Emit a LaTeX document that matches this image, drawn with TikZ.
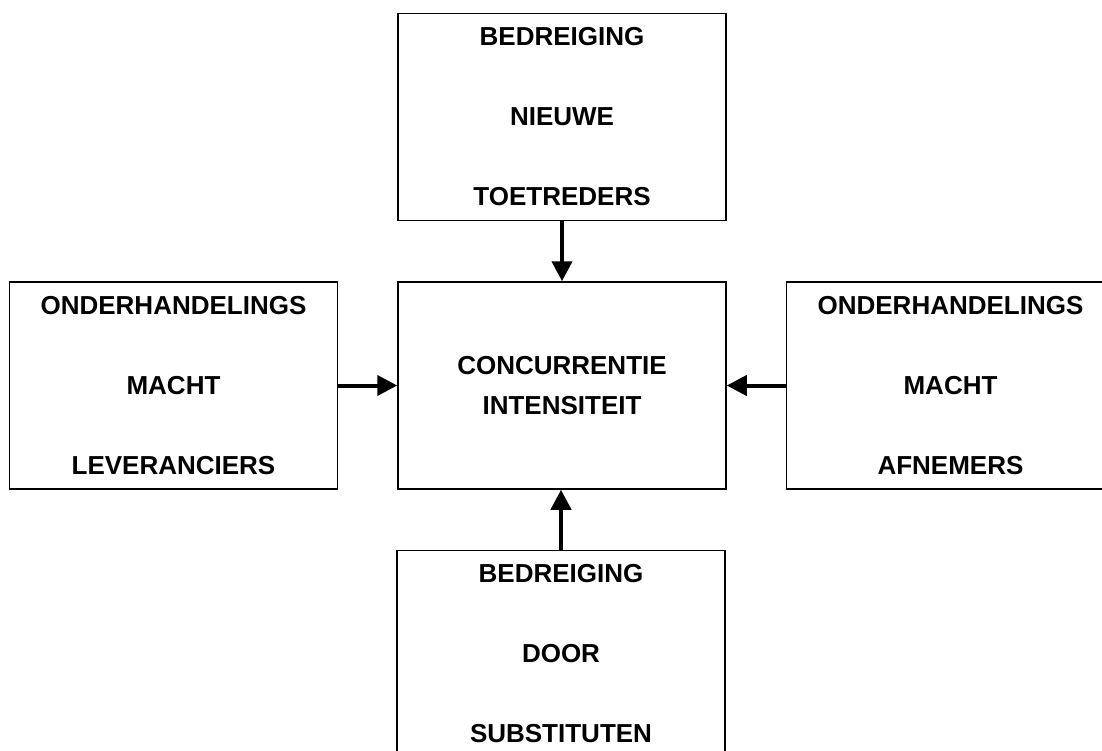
\documentclass[tikz,border=0pt]{standalone}
\usepackage{fontspec}
\setmainfont{Liberation Sans}
\usetikzlibrary{positioning,arrows.meta}
\tikzset{force/.style={draw=black,line width=1.5pt,minimum width=328pt,minimum height=207pt,
  inner sep=0pt,align=center,font=\bfseries\fontsize{26}{40}\selectfont},
  push/.style={-{Triangle[width=20pt,length=20pt]},line width=4pt}}

\begin{document}
\begin{tikzpicture}[x=1pt,y=-1pt,node distance=59pt]
\useasboundingbox (0,0) rectangle (1102,751);
\node[force] (rivalry) at (562,385.5) {CONCURRENTIE\\INTENSITEIT};
\node[force,above=60pt of rivalry] (entrants) {BEDREIGING\\[40pt]NIEUWE\\[40pt]TOETREDERS};
\node[force,left=of rivalry] (suppliers) {ONDERHANDELINGS\\[40pt]MACHT\\[40pt]LEVERANCIERS};
\node[force,right=of rivalry] (buyers) {ONDERHANDELINGS\\[40pt]MACHT\\[40pt]AFNEMERS};
\node[force,below=60pt of rivalry,xshift=-1pt] (substitutes) {BEDREIGING\\[40pt]DOOR\\[40pt]SUBSTITUTEN};
% arrows towards the centre
\draw[push] (entrants.south) -- (rivalry.north);
\draw[push] (suppliers.east) -- (rivalry.west);
\draw[push] (buyers.west) -- (rivalry.east);
\draw[push] (substitutes.north) -- (substitutes.north |- rivalry.south);
\end{tikzpicture}
\end{document}
